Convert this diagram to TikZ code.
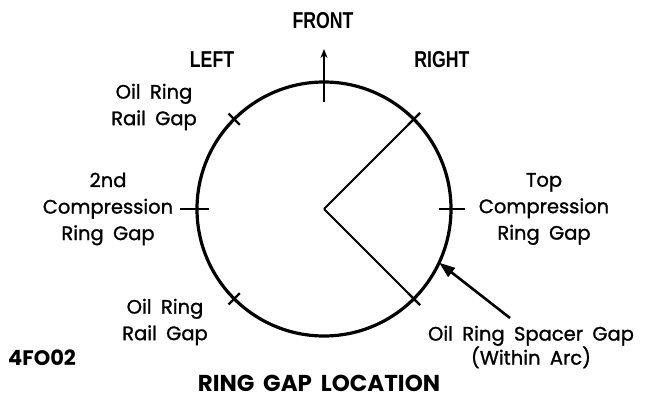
\documentclass[tikz,border=0pt]{standalone}
\usepackage{fontspec}
\setmainfont{Poppins}
\newfontfamily\lblfont{Poppins}[WordSpace=1.8,FakeBold=1.2]
\newfontfamily\titlefont{Poppins}[WordSpace=1.8]
\newfontfamily\condfont{Liberation Sans}
\usetikzlibrary{arrows.meta,calc}
\begin{document}
\begin{tikzpicture}[x=1pt,y=1pt,
  lbl/.style={align=center,font=\lblfont\fontsize{19.5}{26.5}\selectfont,inner sep=0pt},
  dir/.style={inner sep=0pt,font=\condfont\bfseries\fontsize{23}{26}\selectfont},
  tickline/.style={line width=2.3pt},
  ln/.style={line width=1.9pt}]
\useasboundingbox (0,0) rectangle (646,402);
\node[circle,draw,line width=3.2pt,minimum size=254pt,outer sep=0pt,inner sep=0pt] (ring) at (324,193) {};
% X marks
\foreach \a/\n in {135/ul,225/ll,45/ur,-45/lr}{
  \coordinate (\n) at (ring.\a);
  \draw[tickline] ($(\n)+(\a+90:9)$) -- ($(\n)+(\a-90:9)$);
  \draw[tickline] ($(\n)+(\a:8)$) -- ($(\n)+(\a+180:8)$);
}
% radial lines to spacer arc
\coordinate (ure) at ($(ring.center)+(45:136)$);
\coordinate (lre) at ($(ring.center)+(-45:136)$);
\draw[ln] (ring.center) -- (ure);
\draw[ln] (ring.center) -- (lre);
% side ticks
\draw[tickline] ($(ring.180)+(-17,0)$) -- ($(ring.180)+(12,0)$);
\draw[tickline] ($(ring.0)+(-12,0)$) -- ($(ring.0)+(14,0)$);
% front arrow
\coordinate (ftip) at (324,353);
\draw[tickline,-{Stealth[length=9pt,width=7pt]}] ($(ring.90)+(0,-20)$) -- (ftip);
% labels
\node[dir] (front) at (323,381) {\scalebox{0.77}[1]{FRONT}};
\node[dir] (left) at (212,342) {\scalebox{0.77}[1]{LEFT}};
\node[dir] (right) at (442,342) {\scalebox{0.77}[1]{RIGHT}};
\node[lbl] (ulrail) at (154,295) {Oil Ring\\Rail Gap};
\node[lbl] (second) at (108,193) {2nd\\Compression\\Ring Gap};
\node[lbl] (top) at (544,193) {Top\\Compression\\Ring Gap};
\node[lbl] (llrail) at (165,80) {Oil Ring\\Rail Gap};
\node[lbl,font=\lblfont\fontsize{19.5}{24}\selectfont] (spacer) at (531,55) {Oil Ring Spacer Gap\\(Within Arc)};
\node[inner sep=0pt,font=\titlefont\fontsize{21}{22}\selectfont\bfseries] (code) at (42,44) {4FO02};
\node[inner sep=0pt,font=\titlefont\fontsize{23}{24}\selectfont\bfseries] (title) at (319,19) {RING GAP LOCATION};
% spacer arrow
\draw[line width=2.6pt,-{Triangle[length=16pt,width=11pt]}] (510,84) -- (ring.-25);
\end{tikzpicture}
\end{document}
